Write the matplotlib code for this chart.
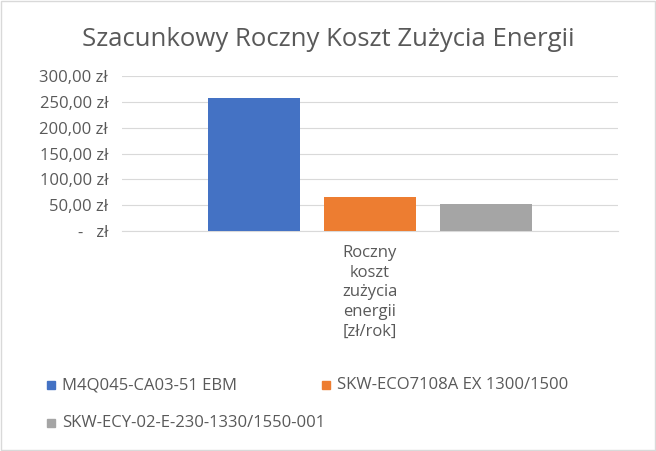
import matplotlib
matplotlib.use("Agg")
import matplotlib.pyplot as plt
from matplotlib.patches import Rectangle

series = ["M4Q045-CA03-51 EBM", "SKW-ECO7108A EX 1300/1500", "SKW-ECY-02-E-230-1330/1550-001"]
values = [258, 65, 52]
colors = ["#4472C4", "#ED7D31", "#A5A5A5"]
category = "Roczny\nkoszt\nzużycia\nenergii\n[zł/rok]"
yticks = [0, 50, 100, 150, 200, 250, 300]
ylabels = ["-   zł", "50,00 zł", "100,00 zł", "150,00 zł", "200,00 zł", "250,00 zł", "300,00 zł"]

plt.rcParams['font.family'] = ['Open Sans', 'DejaVu Sans']
fig = plt.figure(figsize=(6.56, 4.51), dpi=100)
ax = fig.add_axes([122/656, 1-231/451, 496/656, 155/451])
pos = [-1, 0, 1]
for p, v, c in zip(pos, values, colors):
    ax.bar(p, v, width=0.79, color=c, zorder=3)
ax.set_xlim(-2.14, 2.14)
ax.set_ylim(0, 300)
ax.set_yticks(yticks)
ax.set_yticklabels(ylabels, fontsize=12, color="#595959")
ax.set_xticks([])
ax.grid(axis='y', color="#D9D9D9", lw=0.8, zorder=0)
for s in ["top", "right", "left"]:
    ax.spines[s].set_visible(False)
ax.spines["bottom"].set_color("#D9D9D9")
ax.tick_params(axis='y', length=0, pad=10)
fig.text(370/656, 1-245/451, category, ha='center', va='top', fontsize=12, color="#595959", linespacing=1.3)
fig.text(0.5, 1-40/451, "Szacunkowy Roczny Koszt Zużycia Energii", ha='center', va='center', fontsize=18.5, color="#595959")
# legend
leg = [(47, 385, 0), (322, 385, 1), (47, 423, 2)]
for x, y, i in leg:
    fig.patches.append(Rectangle((x/656, 1-(y+4)/451), 8/656, 8/451, color=colors[i], transform=fig.transFigure, figure=fig))
    fig.text((x+15)/656, 1-y/451, series[i], ha='left', va='center', fontsize=12, color="#595959")
fig.patches.append(Rectangle((0.002, 0.002), 0.996, 0.996, fill=False, ec="#D9D9D9", lw=1, transform=fig.transFigure, figure=fig))
fig.savefig("out.png", dpi=100)
